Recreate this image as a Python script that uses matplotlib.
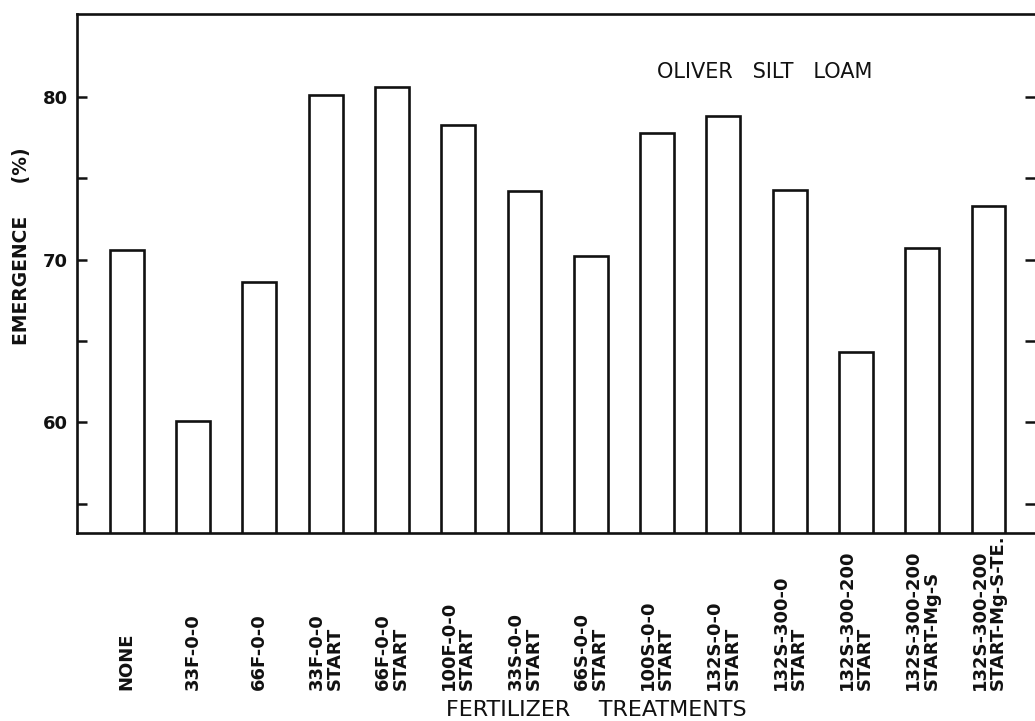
import matplotlib
matplotlib.use("Agg")
import matplotlib.pyplot as plt
import matplotlib.transforms as mtransforms

categories = ["NONE", "33F-0-0", "66F-0-0", "33F-0-0\nSTART", "66F-0-0\nSTART",
              "100F-0-0\nSTART", "33S-0-0\nSTART", "66S-0-0\nSTART", "100S-0-0\nSTART",
              "132S-0-0\nSTART", "132S-300-0\nSTART", "132S-300-200\nSTART",
              "132S-300-200\nSTART-Mg-S", "132S-300-200\nSTART-Mg-S-TE."]
emergence = [70.6, 60.1, 68.6, 80.1, 80.6, 78.3, 74.2, 70.2, 77.8, 78.8, 74.3, 64.3, 70.7, 73.3]
major_ticks = [55, 60, 65, 70, 75, 80]
tick_labels = ["", "60", "", "70", "", "80"]

fig = plt.figure(figsize=(10.35, 7.21), dpi=100)
ax = fig.add_axes([77/1035, 1-533/721, 1-77/1035, (533-14)/721])

x = list(range(len(categories)))
ax.bar(x, emergence, width=0.51, color="white", edgecolor="#111111", linewidth=1.9)
ax.set_xlim(-0.75, 13.70)
ax.set_ylim(53.2, 85.1)

for s in ["left", "bottom", "top"]:
    ax.spines[s].set_linewidth(1.9)
    ax.spines[s].set_color("#111111")
ax.spines["right"].set_visible(False)

ax.set_yticks(major_ticks)
ax.set_yticklabels(tick_labels, fontsize=13, fontweight="bold")
ax.tick_params(axis="y", direction="in", length=7.5, width=1.8, pad=6.5,
               right=True, left=True, colors="#111111")
ax.set_xticks([])

trans = mtransforms.blended_transform_factory(ax.transData, ax.transAxes)
for xi, lab in zip(x, categories):
    ax.text(xi, -0.3025, lab, transform=trans, rotation=90, ha="center", va="bottom",
            multialignment="left", fontsize=13, fontweight="bold", linespacing=1.0,
            color="#111111")

fig.text(22/1035, 1-246/721, "EMERGENCE     (%)", rotation=90, ha="center", va="center",
         fontsize=13.5, fontweight="bold", color="#111111")
fig.text(596/1035, 1-710/721, "FERTILIZER    TREATMENTS", ha="center", va="center",
         fontsize=16, color="#111111")
fig.text(765/1035, 1-72/721, "OLIVER   SILT   LOAM", ha="center", va="center",
         fontsize=15, color="#111111")

fig.savefig("out.png", dpi=100, facecolor="white")
